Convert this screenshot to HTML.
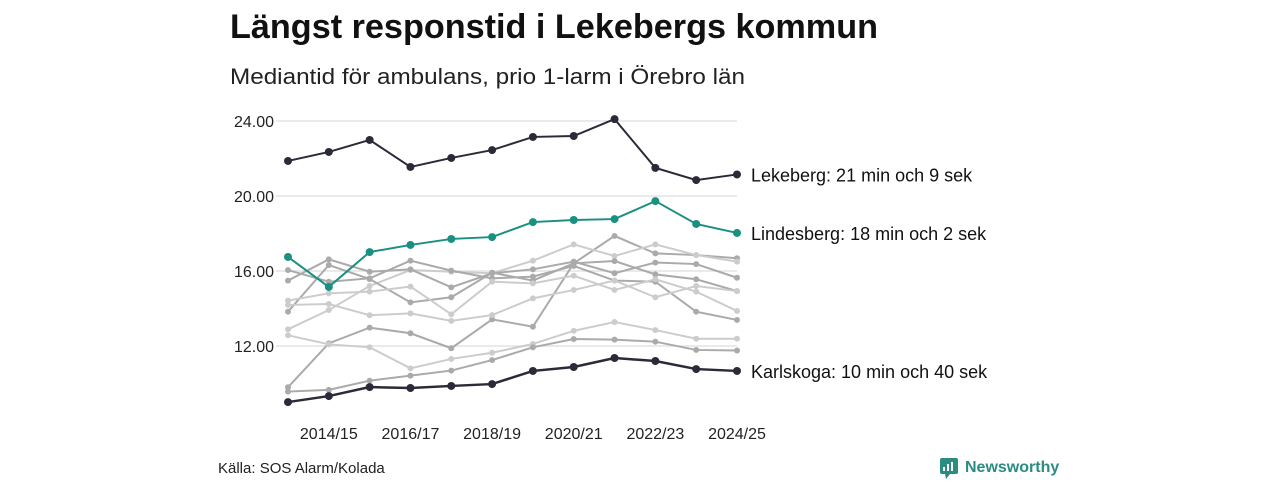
<!DOCTYPE html>
<html><head><meta charset="utf-8"><style>
body{margin:0;background:#fff;width:1280px;height:480px;overflow:hidden;font-family:"Liberation Sans",sans-serif}
</style></head><body>
<svg id="c" width="1280" height="480" xmlns="http://www.w3.org/2000/svg">
<text x="230" y="38" font-size="34" font-weight="bold" fill="#111" textLength="648" lengthAdjust="spacingAndGlyphs">Längst responstid i Lekebergs kommun</text>
<text x="230" y="84" font-size="22" fill="#222" textLength="515" lengthAdjust="spacingAndGlyphs">Mediantid för ambulans, prio 1-larm i Örebro län</text>
<g id="grid"></g><g id="gray"></g><g id="main"></g>
<text x="218" y="473" font-size="15" fill="#222">Källa: SOS Alarm/Kolada</text>
<g>
<rect x="940" y="458" width="18" height="16" rx="2" fill="#2a8c82"/>
<polygon points="945,474 950,474 946,479" fill="#2a8c82"/>
<rect x="943" y="467" width="2" height="4" fill="#fff"/><rect x="947" y="464" width="2" height="7" fill="#fff"/><rect x="951" y="462" width="2" height="9" fill="#fff"/>
<text x="965" y="472" font-size="16" font-weight="bold" fill="#2a8c82">Newsworthy</text>
</g>
</svg>
<script>
const categories=["2013/14","2014/15","2015/16","2016/17","2017/18","2018/19","2019/20","2020/21","2021/22","2022/23","2023/24","2024/25"];
const yTicks=[12,16,20,24];
const lekeberg=[21.87,22.35,22.99,21.55,22.03,22.45,23.15,23.2,24.1,21.5,20.85,21.15];
const lindesberg=[16.75,15.15,17.01,17.39,17.71,17.81,18.61,18.72,18.77,19.73,18.51,18.03];
const karlskoga=[9.01,9.33,9.81,9.76,9.87,9.97,10.67,10.88,11.36,11.2,10.77,10.67];
const grayA=[9.80,12.14,12.98,12.68,11.88,13.42,13.03,16.41,17.87,16.94,16.85,16.68];
const grayB=[12.89,13.92,15.20,16.05,15.96,15.88,16.55,17.42,16.80,17.42,16.85,16.50];
const grayC=[15.49,16.62,15.96,16.09,15.13,15.88,16.09,16.50,15.88,16.45,16.37,15.64];
const grayD=[13.83,16.32,15.57,14.33,14.60,15.91,15.49,16.41,16.53,15.82,15.56,14.93];
const grayE=[16.05,15.43,15.61,16.55,16.02,15.61,15.70,16.27,15.49,15.43,13.83,13.39];
const grayF=[14.42,14.81,14.90,15.17,13.69,15.43,15.34,15.75,14.99,15.56,14.90,13.87];
const grayG=[14.19,14.24,13.64,13.74,13.34,13.65,14.54,14.99,15.49,14.60,15.20,14.93];
const grayH=[12.57,12.09,11.93,10.81,11.31,11.64,12.11,12.81,13.28,12.85,12.39,12.39];
const grayI=[9.57,9.66,10.15,10.42,10.69,11.25,11.93,12.37,12.34,12.23,11.79,11.76];
const grays=[[grayA,"#aaa"],[grayB,"#ccc"],[grayC,"#aaa"],[grayD,"#aaa"],[grayE,"#aaa"],[grayF,"#ccc"],[grayG,"#ccc"],[grayH,"#ccc"],[grayI,"#aaa"]];
const NS="http://www.w3.org/2000/svg";
const x=i=>288+i*(737-288)/(categories.length-1);
const y=v=>121+(24-v)*18.75;
function mk(t,a,p){const e=document.createElementNS(NS,t);for(const k in a)e.setAttribute(k,a[k]);p.appendChild(e);return e;}
const grid=document.getElementById('grid');
yTicks.forEach(t=>{
 const l=mk('line',{x1:276,x2:737,y1:y(t),y2:y(t),stroke:'#e3e3e3','stroke-width':1.5},grid);
 
 
 const tx=mk('text',{x:274,y:y(t)+6,'font-size':16,fill:'#222','text-anchor':'end'},grid);tx.textContent=t.toFixed(2);
 
 
});
categories.forEach((c,i)=>{if(i%2==1){
 const tx=mk('text',{x:x(i),y:439,'font-size':16,fill:'#222','text-anchor':'middle'},grid);tx.textContent=c;
 
 
}});
function series(vals,col,w,r,g,name){
 const p=mk('polyline',{points:vals.map((v,i)=>x(i)+','+y(v)).join(' '),fill:'none',stroke:col,'stroke-width':w},g);
 
 
 vals.forEach((v,i)=>{const c=mk('circle',{cx:x(i),cy:y(v),r:r,fill:col},g);
 
 });
}
const gg=document.getElementById('gray');
grays.forEach((s,k)=>series(s[0],s[1],2,3,gg,'other-municipality-'+k));
const mg=document.getElementById('main');
series(lekeberg,'#2b2a38',2,4,mg,'lekeberg');
series(lindesberg,'#1a9080',2,4,mg,'lindesberg');
series(karlskoga,'#2b2a38',2.5,4,mg,'karlskoga');
[[lekeberg,'Lekeberg: 21 min och 9 sek','lekeberg-label'],[lindesberg,'Lindesberg: 18 min och 2 sek','lindesberg-label'],[karlskoga,'Karlskoga: 10 min och 40 sek','karlskoga-label']].forEach(d=>{
 const t=mk('text',{x:751,y:y(d[0][11])+7,'font-size':18,fill:'#111'},mg);t.textContent=d[1];
 
 
});
</script>
</body></html>
